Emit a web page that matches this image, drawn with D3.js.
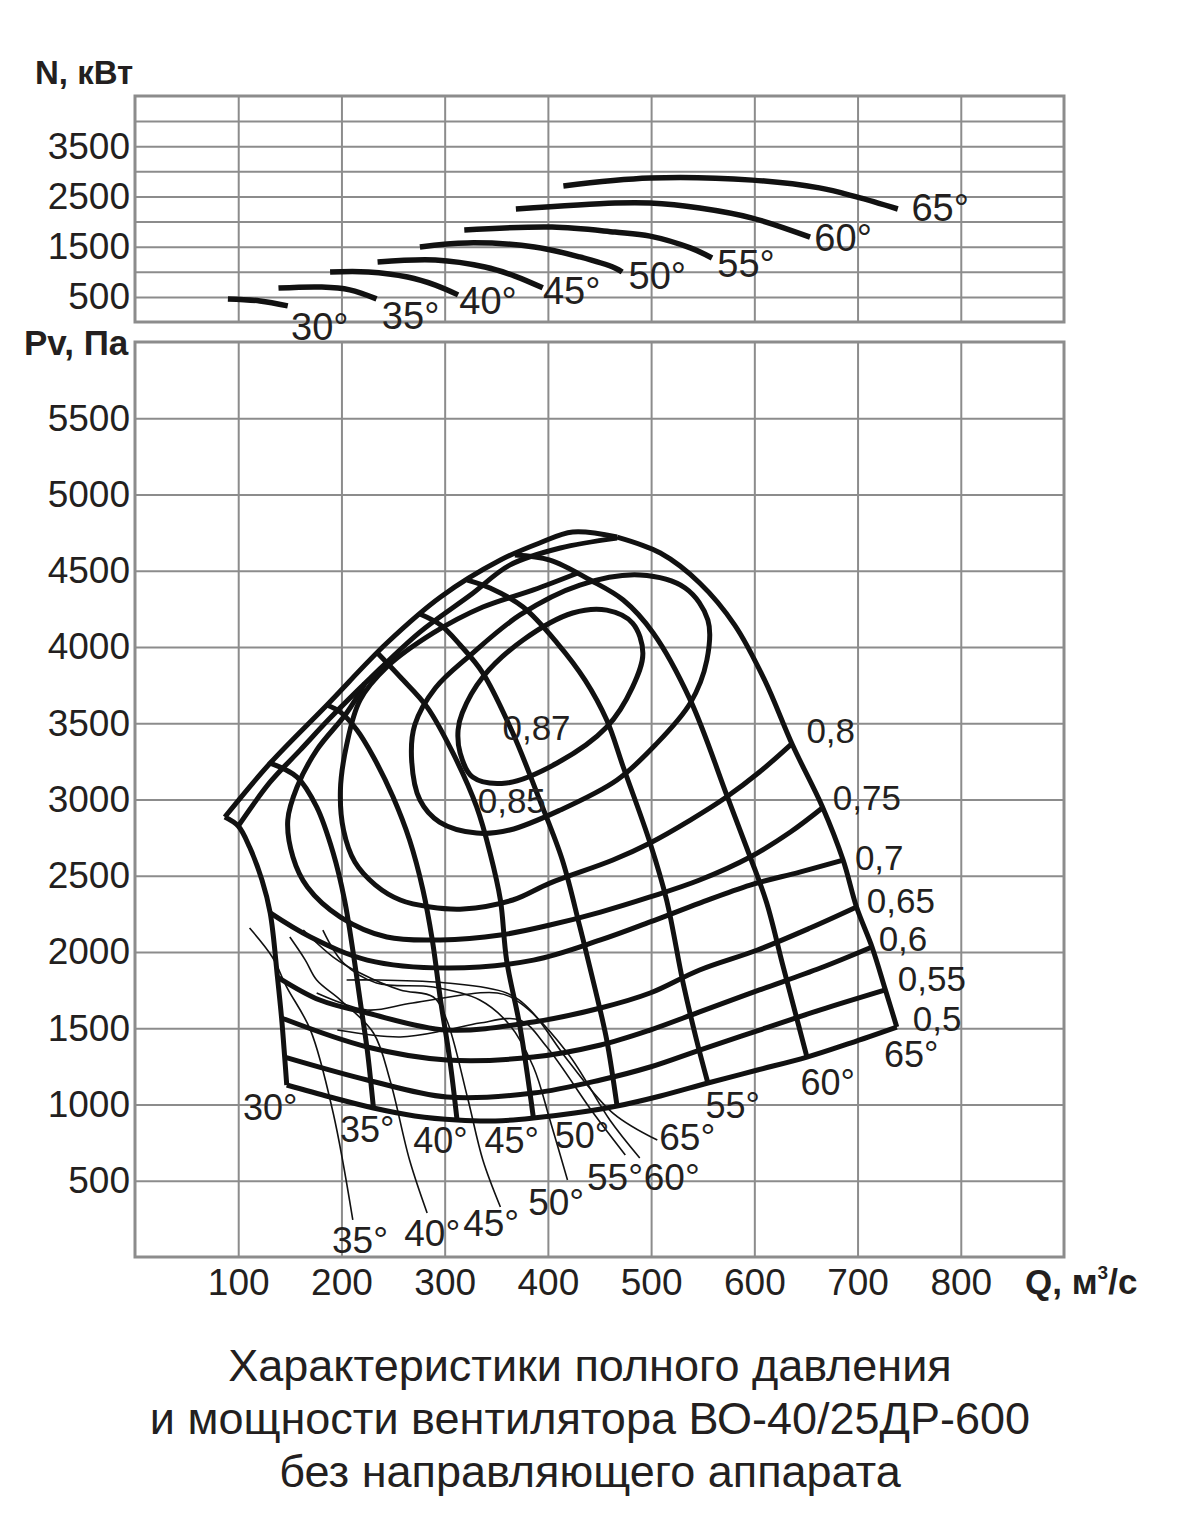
<!DOCTYPE html>
<html>
<head>
<meta charset="utf-8">
<script src="https://cdn.jsdelivr.net/npm/d3@7"></script>
<style>
  body { margin: 0; background: #fff; }
  text { font-family: "Liberation Sans", Arial, sans-serif; fill: #231f20; }
</style>
</head>
<body>
<svg id="chart" width="1181" height="1515"></svg>
<script>
// ---- axes ----
var qTicks = [100, 200, 300, 400, 500, 600, 700, 800];
var pvTicks = [500, 1000, 1500, 2000, 2500, 3000, 3500, 4000, 4500, 5000, 5500];
var nGrid = [500, 1000, 1500, 2000, 2500, 3000, 3500, 4000];
var nTicks = [500, 1500, 2500, 3500];

// ---- power N(Q), kW, per blade angle ----
var power30 = [[90, 460], [121, 420], [148, 320]];
var power35 = [[139, 675], [181, 695], [208, 640], [234, 460]];
var power40 = [[189, 995], [226, 995], [264, 895], [291, 735], [313, 540]];
var power45 = [[235, 1195], [291, 1235], [339, 1095], [368, 915], [395, 680]];
var power50 = [[276, 1495], [322, 1575], [387, 1495], [431, 1295], [465, 1075], [472, 995]];
var power55 = [[319, 1830], [404, 1890], [465, 1790], [499, 1710], [538, 1475], [559, 1275]];
var power60 = [[369, 2250], [465, 2370], [499, 2370], [547, 2270], [598, 2070], [654, 1690]];
var power65 = [[415, 2710], [499, 2865], [598, 2825], [663, 2670], [699, 2490], [739, 2250]];
var powerLabels = [['30°', 179, -80], ['35°', 267, 140], ['40°', 342, 440], ['45°', 423, 640],
  ['50°', 506, 935], ['55°', 592, 1175], ['60°', 686, 1690], ['65°', 780, 2290]];

// ---- pressure Pv(Q), Pa ----
var envelope = [[87, 2885], [131, 3239], [186, 3620], [244, 4026], [296, 4328], [354, 4570],
  [392, 4682], [424, 4754], [467, 4721]];
var stallLine = [[100, 2826], [131, 3115], [160, 3324], [189, 3534], [228, 3796], [276, 4098],
  [325, 4341], [363, 4537], [412, 4649], [467, 4714]];

var blade30 = [[87, 2885], [100, 2826], [111, 2688], [123, 2472], [131, 2256], [138, 1836],
  [142, 1567], [145, 1311], [147, 1128]];
var blade35 = [[131, 3239], [157, 3147], [176, 2951], [192, 2649], [203, 2341], [211, 2013],
  [218, 1685], [225, 1357], [231, 977]];
var blade40 = [[186, 3620], [199, 3573], [215, 3456], [231, 3279], [250, 3016], [266, 2734],
  [279, 2406], [288, 2079], [296, 1685], [305, 1292], [312, 898]];
var blade45 = [[234, 3967], [257, 3803], [283, 3606], [308, 3305], [331, 2951], [344, 2649],
  [354, 2341], [360, 1947], [373, 1508], [386, 911]];
var blade50 = [[276, 4216], [296, 4144], [315, 4013], [337, 3829], [366, 3436], [392, 2997],
  [414, 2603], [431, 2164], [446, 1751], [457, 1423], [467, 990]];
var blade55 = [[322, 4439], [344, 4387], [376, 4262], [409, 4026], [436, 3783], [457, 3521],
  [473, 3213], [499, 2715], [515, 2341], [531, 1797], [544, 1423], [555, 1141]];
var blade60 = [[368, 4603], [402, 4570], [441, 4439], [473, 4308], [502, 4092], [538, 3652],
  [574, 3016], [596, 2623], [612, 2321], [628, 1902], [651, 1311]];
var blade65 = [[467, 4721], [509, 4616], [547, 4420], [581, 4144], [610, 3783], [637, 3357],
  [666, 2951], [686, 2603], [699, 2295], [714, 2033], [727, 1751], [738, 1508]];

// efficiency lines
var eta087 = [[313, 3456], [317, 3567], [337, 3803], [376, 4046], [424, 4223], [457, 4242],
  [482, 4157], [492, 3960], [482, 3737], [457, 3475], [409, 3239], [360, 3108], [327, 3147], [315, 3305]];
var eta085 = [[268, 3259], [271, 3488], [291, 3731], [325, 3947], [373, 4210], [431, 4406],
  [489, 4472], [533, 4387], [555, 4177], [554, 3914], [538, 3633], [504, 3357], [467, 3128],
  [412, 2931], [363, 2800], [331, 2780], [295, 2852], [276, 2997]];
var eta080 = [[637, 3370], [605, 3180], [573, 3016], [538, 2865], [499, 2715], [463, 2603],
  [402, 2452], [366, 2341], [318, 2282], [286, 2295], [257, 2341], [233, 2439], [213, 2590],
  [202, 2800], [199, 3062], [205, 3357], [218, 3652], [244, 3869], [289, 4092], [337, 4262],
  [386, 4374], [429, 4485]];
var eta075 = [[667, 2951], [635, 2787], [596, 2623], [547, 2472], [499, 2361], [451, 2262],
  [402, 2177], [354, 2111], [296, 2079], [244, 2098], [199, 2229], [167, 2426], [153, 2623],
  [148, 2865], [157, 3082], [176, 3324], [205, 3567], [223, 3764]];
var eta070 = [[131, 2256], [170, 2098], [225, 1947], [302, 1895], [386, 1947], [451, 2079],
  [499, 2197], [547, 2321], [596, 2439], [644, 2524], [686, 2603]];
var eta065 = [[138, 1836], [179, 1685], [225, 1600], [302, 1488], [386, 1541], [451, 1633],
  [499, 1731], [547, 1882], [603, 2013], [654, 2157], [699, 2295]];
var eta060 = [[142, 1567], [225, 1377], [302, 1292], [386, 1311], [451, 1390], [499, 1488],
  [547, 1607], [605, 1751], [664, 1895], [714, 2033]];
var eta055 = [[145, 1311], [225, 1161], [302, 1049], [386, 1075], [451, 1161], [499, 1246],
  [547, 1357], [605, 1488], [664, 1620], [727, 1751]];
var eta050 = [[147, 1128], [189, 1049], [231, 977], [271, 925], [312, 898], [349, 892],
  [386, 911], [426, 944], [467, 990], [509, 1056], [555, 1141], [603, 1226], [651, 1311],
  [693, 1403], [738, 1508]];

// thin unstable branches
var thin35 = [[111, 2157], [133, 1967], [147, 1770], [170, 1488], [192, 944], [211, 243]];
var thin40 = [[150, 2098], [165, 1947], [176, 1816], [199, 1685], [231, 1469], [247, 1161], [266, 636], [283, 289]];
var thin45 = [[163, 2144], [192, 1967], [218, 1862], [257, 1751], [289, 1705], [302, 1554], [322, 1049], [337, 636], [354, 328]];
var thin50 = [[182, 2144], [202, 1928], [234, 1797], [289, 1770], [334, 1685], [363, 1521], [386, 1246], [402, 898], [419, 505]];
var thin55 = [[196, 1488], [257, 1443], [302, 1488], [334, 1534], [373, 1554], [399, 1377], [444, 944], [475, 669]];
var thin60 = [[176, 1731], [225, 1620], [269, 1666], [351, 1731], [373, 1666], [419, 1338], [460, 898], [489, 649]];
var thin65 = [[205, 1816], [237, 1816], [302, 1797], [360, 1731], [383, 1620], [419, 1292], [463, 944], [506, 767]];

var bladeLabels = [['30°', 131, 984], ['35°', 225, 839], ['40°', 296, 767], ['45°', 365, 767],
  ['50°', 433, 800], ['55°', 579, 997], ['60°', 671, 1148], ['65°', 752, 1331]];
var thinLabels = [['35°', 218, 111], ['40°', 288, 157], ['45°', 345, 223], ['50°', 408, 361],
  ['55°', 465, 525], ['60°', 520, 525], ['65°', 535, 790]];
var etaLabels = [['0,87', 389, 3475], ['0,85', 365, 2997], ['0,8', 674, 3456], ['0,75', 709, 3016],
  ['0,7', 721, 2623], ['0,65', 742, 2341], ['0,6', 744, 2092], ['0,55', 772, 1830], ['0,5', 777, 1567]];

var titleLines = ['Характеристики полного давления',
  'и мощности вентилятора ВО-40/25ДР-600',
  'без направляющего аппарата'];

// ---- drawing ----
var svg = d3.select('#chart');
var left = 135, right = 1064;
var topN = 96, bottomN = 322, topP = 342, bottomP = 1257;
var gridColor = '#8c8c8c';

var x = d3.scaleLinear().domain([0, 900]).range([left, right]);
var yN = d3.scaleLinear().domain([0, 4500]).range([bottomN, topN]);
var yP = d3.scaleLinear().domain([0, 6000]).range([bottomP, topP]);

function styleGrid(g) {
    g.select('.domain').remove();
    g.selectAll('line').attr('stroke', gridColor).attr('stroke-width', 2);
    g.selectAll('text').attr('font-size', 37).attr('fill', '#231f20');
}

// power chart grid
svg.append('g')
    .attr('transform', 'translate(0,' + bottomN + ')')
    .call(d3.axisBottom(x).tickValues(qTicks).tickSize(-(bottomN - topN)).tickFormat(''))
    .call(styleGrid);
svg.append('g')
    .attr('transform', 'translate(' + left + ',0)')
    .call(d3.axisLeft(yN).tickValues(nGrid).tickSize(-(right - left)).tickPadding(5)
        .tickFormat(function (d) { return nTicks.indexOf(d) >= 0 ? d : ''; }))
    .call(styleGrid);
svg.append('rect')
    .attr('x', left).attr('y', topN).attr('width', right - left).attr('height', bottomN - topN)
    .attr('fill', 'none').attr('stroke', gridColor).attr('stroke-width', 3);

// pressure chart grid
svg.append('g')
    .attr('transform', 'translate(0,' + bottomP + ')')
    .call(d3.axisBottom(x).tickValues(qTicks).tickSize(-(bottomP - topP)).tickPadding(12)
        .tickFormat(d3.format('d')))
    .call(styleGrid);
svg.append('g')
    .attr('transform', 'translate(' + left + ',0)')
    .call(d3.axisLeft(yP).tickValues(pvTicks).tickSize(-(right - left)).tickPadding(5)
        .tickFormat(d3.format('d')))
    .call(styleGrid);
svg.append('rect')
    .attr('x', left).attr('y', topP).attr('width', right - left).attr('height', bottomP - topP)
    .attr('fill', 'none').attr('stroke', gridColor).attr('stroke-width', 3);

var lineN = d3.line().x(function (d) { return x(d[0]); }).y(function (d) { return yN(d[1]); })
    .curve(d3.curveCatmullRom.alpha(0.5));
var lineP = d3.line().x(function (d) { return x(d[0]); }).y(function (d) { return yP(d[1]); })
    .curve(d3.curveCatmullRom.alpha(0.5));
var loopP = d3.line().x(function (d) { return x(d[0]); }).y(function (d) { return yP(d[1]); })
    .curve(d3.curveCatmullRomClosed.alpha(0.5));

function drawCurves(list, gen, width) {
    svg.append('g').selectAll('path')
        .data(list)
        .enter().append('path')
        .attr('d', gen)
        .attr('fill', 'none')
        .attr('stroke', '#111')
        .attr('stroke-width', width)
        .attr('stroke-linecap', 'butt')
        .attr('stroke-linejoin', 'round');
}

drawCurves([power30, power35, power40, power45, power50, power55, power60, power65], lineN, 5.5);

drawCurves([thin35, thin40, thin45, thin50, thin55, thin60, thin65], lineP, 1.6);
drawCurves([eta070, eta065, eta060, eta055, eta050, eta075, eta080], lineP, 5);
drawCurves([eta085, eta087], loopP, 5);
drawCurves([envelope, stallLine, blade30, blade35, blade40, blade45, blade50, blade55, blade60, blade65], lineP, 5);

function drawLabels(list, yScale, size) {
    svg.append('g').selectAll('text')
        .data(list)
        .enter().append('text')
        .attr('x', function (d) { return x(d[1]); })
        .attr('y', function (d) { return yScale(d[2]); })
        .attr('dy', '0.36em')
        .attr('text-anchor', 'middle')
        .attr('font-size', size)
        .text(function (d) { return d[0]; });
}
drawLabels(powerLabels, yN, 38);
drawLabels(bladeLabels, yP, 36);
drawLabels(thinLabels, yP, 37);
drawLabels(etaLabels, yP, 35);

// axis titles
svg.append('text').attr('x', 35).attr('y', 84).attr('font-size', 33).attr('font-weight', 'bold').text('N, кВт');
svg.append('text').attr('x', 24).attr('y', 355).attr('font-size', 35).attr('font-weight', 'bold').text('Pv, Па');
var qt = svg.append('text').attr('x', 1025).attr('y', 1294).attr('font-size', 35).attr('font-weight', 'bold');
qt.append('tspan').text('Q, м');
qt.append('tspan').attr('font-size', 19).attr('dy', -15).text('3');
qt.append('tspan').attr('dy', 15).text('/с');

svg.append('g').selectAll('text')
    .data(titleLines)
    .enter().append('text')
    .attr('x', 590)
    .attr('y', function (d, i) { return 1381 + i * 53; })
    .attr('text-anchor', 'middle')
    .attr('font-size', 45)
    .text(function (d) { return d; });
</script>
</body>
</html>
